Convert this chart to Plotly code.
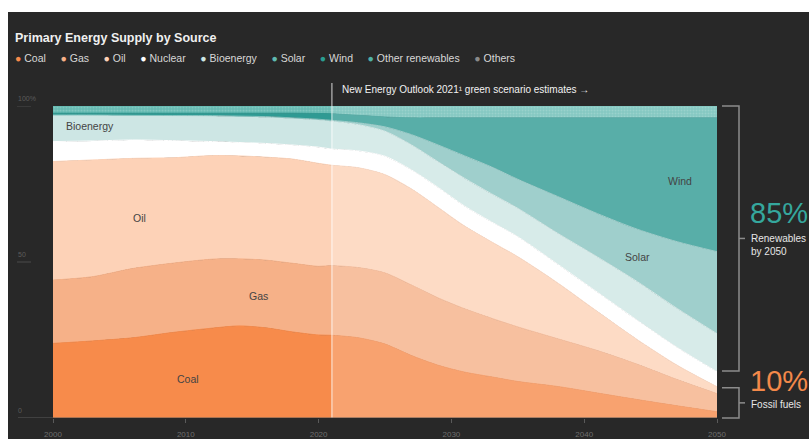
import plotly.graph_objects as go

# ---------------- data (share of primary energy supply, %) ----------------
years = [2000, 2003, 2006, 2009, 2012, 2014, 2016, 2018, 2020, 2021, 2023, 2025,
         2027, 2029, 2031, 2033, 2035, 2038, 2041, 2044, 2047, 2050]
coal = [23.9, 24.7, 25.7, 27.4, 28.8, 29.5, 28.9, 27.6, 26.6, 26.5, 25.7, 23.7,
        20.0, 16.9, 14.7, 13.2, 11.7, 10.1, 8.0, 5.9, 3.9, 2.0]
gas = [20.3, 20.6, 22.2, 22.2, 22.1, 21.5, 21.7, 22.0, 22.0, 22.3, 22.5, 22.8,
       22.6, 21.6, 20.3, 18.8, 17.5, 15.3, 13.6, 11.3, 8.4, 5.8]
oil = [38.0, 37.4, 35.3, 33.8, 33.2, 33.0, 33.0, 33.4, 33.0, 32.2, 32.0, 31.5,
       30.8, 29.0, 26.5, 24.5, 22.5, 17.9, 12.5, 7.9, 4.6, 2.2]
nuclear = [6.4, 6.1, 5.9, 5.5, 4.5, 4.3, 4.4, 4.5, 5.2, 5.2, 5.4, 5.9,
           6.1, 6.4, 6.4, 6.4, 6.4, 6.0, 6.2, 6.2, 5.7, 4.8]
bioenergy = [8.5, 8.3, 7.9, 8.0, 8.2, 8.3, 8.4, 8.5, 8.7, 8.9, 8.4, 8.0,
             8.0, 8.2, 8.9, 9.0, 9.1, 9.9, 11.3, 12.4, 12.5, 12.2]
solar = [0.0, 0.0, 0.0, 0.05, 0.1, 0.15, 0.2, 0.2, 0.25, 0.3, 0.6, 1.4,
         3.3, 5.4, 7.2, 8.6, 9.3, 11.8, 13.9, 16.8, 21.4, 26.3]
wind = [0.6, 0.6, 0.7, 0.75, 0.8, 0.95, 1.1, 1.5, 1.85, 2.1, 2.4, 3.2,
        5.4, 8.7, 12.2, 15.7, 19.7, 25.2, 30.7, 35.7, 39.7, 42.9]
other_renewables = [2.3, 2.3, 2.3, 2.3, 2.3, 2.3, 2.3, 2.3, 2.4, 2.5, 3.0, 3.5,
                    3.8, 3.8, 3.8, 3.8, 3.8, 3.8, 3.8, 3.8, 3.8, 3.8]

legend_names = ["Coal", "Gas", "Oil", "Nuclear", "Bioenergy", "Solar", "Wind",
                "Other renewables", "Others"]
x_ticks = [2000, 2010, 2020, 2030, 2040, 2050]
y_ticks = [0, 50, 100]
y_ticktext = ["0", "50", "100%"]
projection_start = 2021

# ---------------- styles ----------------
BG = "#282828"
FONT = "Liberation Sans"
colors = {
    "Coal": "#f78b4b",
    "Gas": "#f6b188",
    "Oil": "#fdd2b7",
    "Nuclear": "#ffffff",
    "Bioenergy": "#cde6e4",
    "Solar": "#88c4c0",
    "Wind": "#2f9a93",
    "Other renewables": "#66bab2",
    "Others": "#8a8a8a",
}
legend_dot = dict(colors)
legend_dot.update({"Solar": "#5fbab1", "Wind": "#2a9d91", "Other renewables": "#4fb1a6"})

series = [("Coal", coal), ("Gas", gas), ("Oil", oil), ("Nuclear", nuclear),
          ("Bioenergy", bioenergy), ("Solar", solar), ("Wind", wind),
          ("Other renewables", other_renewables)]

fig = go.Figure()
for name, vals in series:
    kw = {}
    if name == "Other renewables":
        kw["fillpattern"] = dict(shape=".", bgcolor=colors[name], fgcolor="#9bd3cd",
                                 size=3, solidity=0.35)
    fig.add_trace(go.Scatter(
        x=years, y=vals, name=name, stackgroup="one", mode="lines",
        line=dict(width=1, shape="spline", smoothing=0.8, color=colors[name]),
        fillcolor=colors[name], showlegend=False, hoverinfo="skip", **kw))

# plot geometry (pixels) for paper conversions
W, H = 809, 439
ML, MR, MT, MB = 53, 92, 106, 21
PW, PH = W - ML - MR, H - MT - MB


def px(xp):
    return (xp - ML) / PW


def py(yp):
    return (H - MB - yp) / PH


shapes = []
# projection overlay + divider line
shapes.append(dict(type="rect", xref="x", yref="y", x0=projection_start, x1=years[-1],
                   y0=0, y1=100, fillcolor="rgba(255,255,255,0.2)", line=dict(width=0),
                   layer="above"))
shapes.append(dict(type="line", xref="x", yref="paper", x0=projection_start, x1=projection_start,
                   y0=0, y1=py(83), line=dict(color="rgba(255,255,255,0.55)", width=1.5),
                   layer="above"))
# white frame strips (top / left)
shapes.append(dict(type="rect", xref="paper", yref="paper", x0=-0.3, x1=1.5,
                   y0=py(12), y1=py(-20), fillcolor="white", line=dict(width=0)))
shapes.append(dict(type="rect", xref="paper", yref="paper", x0=px(-20), x1=px(8),
                   y0=py(460), y1=py(-20), fillcolor="white", line=dict(width=0)))
# x axis base line extended left
shapes.append(dict(type="line", xref="paper", yref="y", x0=px(18), x1=1, y0=0, y1=0,
                   line=dict(color="#5a5a5a", width=1)))
# small y tick lines
for v in y_ticks[1:]:
    shapes.append(dict(type="line", xref="paper", yref="y", x0=px(17), x1=px(31), y0=v, y1=v,
                       line=dict(color="#4a4a4a", width=1)))

# right brackets
fossil_2050 = coal[-1] + gas[-1] + oil[-1]
nonren_2050 = fossil_2050 + nuclear[-1]
renew_2050 = bioenergy[-1] + solar[-1] + wind[-1] + other_renewables[-1]
bx0, bx1, bx2 = px(722), px(739), px(745)
BR = dict(color="#8c8c8c", width=1.5)
for lo, hi in [(nonren_2050 + 0.3, 100), (0, fossil_2050 - 0.3)]:
    ylo, yhi = lo / 100, hi / 100
    shapes.append(dict(type="path", xref="paper", yref="paper",
                       path=f"M {bx0},{yhi} L {bx1},{yhi} L {bx1},{ylo} L {bx0},{ylo}",
                       line=BR))
    ym = (ylo + yhi) / 2
    shapes.append(dict(type="line", xref="paper", yref="paper", x0=bx1, x1=bx2, y0=ym, y1=ym,
                       line=BR))

ann = []
ann.append(dict(text="<b>Primary Energy Supply by Source</b>", xref="paper", yref="paper",
                x=px(13), y=py(38), xanchor="left", yanchor="middle", showarrow=False,
                font=dict(family=FONT, size=12.5, color="#f0f0f0")))
leg = "&nbsp;&nbsp;&nbsp;&nbsp;&nbsp;".join(
    f"<span style='color:{legend_dot[n]}'>●</span> {n}" for n in legend_names)
ann.append(dict(text=leg, xref="paper", yref="paper", x=px(13), y=py(58),
                xanchor="left", yanchor="middle", showarrow=False,
                font=dict(family=FONT, size=10.5, color="#d8d8d8")))
ann.append(dict(text="New Energy Outlook 2021¹ green scenario estimates →", xref="paper",
                yref="paper", x=px(340), y=py(89), xanchor="left", yanchor="middle",
                showarrow=False, font=dict(family=FONT, size=10, color="#f2f2f2")))
# y tick labels
for v, t in zip(y_ticks, y_ticktext):
    ann.append(dict(text=t, xref="paper", yref="y", x=px(16), y=v, xanchor="left",
                    yanchor="bottom", yshift=2, showarrow=False,
                    font=dict(family=FONT, size=7, color="#5c5c5c")))
# in-chart labels
for t, xx, yy, anc in [("Bioenergy", 2000.8, 93.6, "left"), ("Oil", 2006.5, 64.1, "center"),
                       ("Gas", 2015.5, 39.1, "center"), ("Coal", 2010.2, 12.5, "center"),
                       ("Wind", 2047.2, 76.0, "center"), ("Solar", 2044.0, 51.6, "center")]:
    ann.append(dict(text=t, x=xx, y=yy, xanchor=anc, yanchor="middle", showarrow=False,
                    font=dict(family=FONT, size=10.5, color="#444444")))
# right-hand callouts
ann.append(dict(text=f"{round(renew_2050)}%", xref="paper", yref="paper", x=px(748), y=py(213),
                xanchor="left", yanchor="middle", showarrow=False,
                font=dict(family=FONT, size=29, color="#35a79d")))
ann.append(dict(text="Renewables<br>by 2050", xref="paper", yref="paper", x=px(749), y=py(245),
                xanchor="left", yanchor="middle", align="left", showarrow=False,
                font=dict(family=FONT, size=10, color="#e6e6e6")))
ann.append(dict(text=f"{round(fossil_2050)}%", xref="paper", yref="paper", x=px(748), y=py(381),
                xanchor="left", yanchor="middle", showarrow=False,
                font=dict(family=FONT, size=29, color="#f4894a")))
ann.append(dict(text="Fossil fuels", xref="paper", yref="paper", x=px(749), y=py(404),
                xanchor="left", yanchor="middle", showarrow=False,
                font=dict(family=FONT, size=10, color="#e6e6e6")))

fig.update_layout(
    width=W, height=H, margin=dict(l=ML, r=MR, t=MT, b=MB, autoexpand=False),
    paper_bgcolor=BG, plot_bgcolor=BG, showlegend=False,
    shapes=shapes, annotations=ann,
    font=dict(family=FONT),
    xaxis=dict(range=[years[0], years[-1]], tickvals=x_ticks, showgrid=False, zeroline=False,
               showline=False, ticks="outside", ticklen=4, tickcolor="#5a5a5a",
               ticklabelstandoff=4, automargin=False,
               tickfont=dict(family=FONT, size=8, color="#6e6e6e")),
    yaxis=dict(range=[0, 100], visible=False, showgrid=False, zeroline=False, automargin=False),
)

fig.write_html("out.html")
